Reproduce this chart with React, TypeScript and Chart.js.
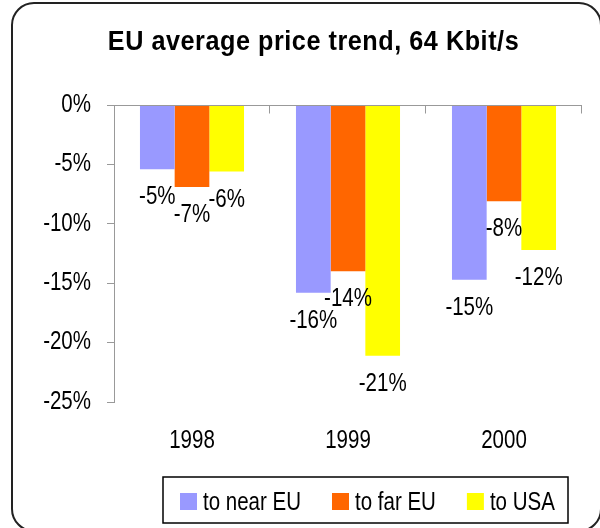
import { useEffect, useRef } from "react";
import { Chart, registerables } from "chart.js";

Chart.register(...registerables);

const categories = ["1998", "1999", "2000"];
const seriesNames = ["to near EU", "to far EU", "to USA"];
const nearEU = [-5.4, -15.8, -14.7];
const farEU = [-6.9, -14.0, -8.1];
const toUSA = [-5.6, -21.1, -12.2];
const seriesColors = ["#9999FF", "#FF6600", "#FFFF00"];
const yTicks = [0, -5, -10, -15, -20, -25];
const titleText = "EU average price trend, 64 Kbit/s";

const FONT = '"Liberation Sans", Arial, sans-serif';
const NARROW = 0.82;
const protoFill = CanvasRenderingContext2D.prototype.fillText;

const framePlugin = {
  id: "frame",
  beforeDraw(chart: any) {
    const ctx = chart.ctx;
    ctx.save();
    ctx.fillStyle = "#fff";
    ctx.fillRect(0, 0, chart.width, chart.height);
    ctx.strokeStyle = "#222";
    ctx.lineWidth = 2;
    ctx.beginPath();
    ctx.roundRect(12, 3, 589, 528, 22);
    ctx.stroke();
    ctx.fillStyle = "#000";
    ctx.font = "bold 28px " + FONT;
    ctx.textAlign = "center";
    ctx.textBaseline = "alphabetic";
    try {
      ctx.letterSpacing = "0.6px";
    } catch (e) {}
    ctx.translate(313.5, 49.5);
    ctx.scale(0.9, 1);
    protoFill.call(ctx, titleText, 0, 0);
    ctx.restore();
  },
};

const axisLinePlugin = {
  id: "zeroLine",
  afterDatasetsDraw(chart: any) {
    const ctx = chart.ctx;
    const area = chart.chartArea;
    const y0 = Math.round(chart.scales.y.getPixelForValue(0)) + 0.5;
    ctx.save();
    ctx.strokeStyle = "#999";
    ctx.lineWidth = 1;
    ctx.beginPath();
    ctx.moveTo(area.left, y0);
    ctx.lineTo(area.right, y0);
    const n = categories.length;
    for (let i = 1; i <= n; i++) {
      const x = Math.round(area.left + (i * (area.right - area.left)) / n) - 0.5;
      ctx.moveTo(x, y0);
      ctx.lineTo(x, y0 + 8);
    }
    ctx.stroke();
    ctx.fillStyle = "#000";
    ctx.font = "25px " + FONT;
    ctx.textAlign = "center";
    ctx.textBaseline = "alphabetic";
    chart.data.datasets.forEach((ds: any, di: number) => {
      const meta = chart.getDatasetMeta(di);
      meta.data.forEach((bar: any, i: number) => {
        const v = ds.data[i];
        ctx.fillText(Math.round(v) + "%", bar.x, bar.y + 35);
      });
    });
    ctx.restore();
  },
};

const legendPlugin = {
  id: "boxLegend",
  afterDraw(chart: any) {
    const ctx = chart.ctx;
    ctx.save();
    ctx.strokeStyle = "#000";
    ctx.lineWidth = 1.5;
    ctx.strokeRect(163, 477, 405, 46);
    ctx.font = "25px " + FONT;
    ctx.textAlign = "left";
    ctx.textBaseline = "alphabetic";
    let x = 180;
    chart.data.datasets.forEach((ds: any) => {
      ctx.fillStyle = ds.backgroundColor;
      ctx.fillRect(x, 493, 17, 17);
      x += 23;
      ctx.fillStyle = "#000";
      ctx.fillText(ds.label, x, 510);
      x += ctx.measureText(ds.label).width * NARROW + 31;
    });
    ctx.restore();
  },
};

export default function App() {
  const ref = useRef<HTMLCanvasElement | null>(null);
  useEffect(() => {
    document.body.style.margin = "0";
    const canvas = ref.current;
    if (!canvas) return;
    const ctx: any = canvas.getContext("2d");
    ctx.fillText = function (text: string, x: number, y: number, mw?: number) {
      this.save();
      this.translate(x, y);
      this.scale(NARROW, 1);
      if (mw === undefined) protoFill.call(this, text, 0, 0);
      else protoFill.call(this, text, 0, 0, mw / NARROW);
      this.restore();
    };
    const chart = new Chart(canvas, {
      type: "bar",
      data: {
        labels: categories,
        datasets: [nearEU, farEU, toUSA].map((d, i) => ({
          label: seriesNames[i],
          data: d,
          backgroundColor: seriesColors[i],
          borderWidth: 0,
          categoryPercentage: 0.667,
          barPercentage: 1,
        })),
      },
      options: {
        responsive: false,
        animation: false,
        devicePixelRatio: 1,
        layout: { padding: { left: 0, top: 105, right: 18, bottom: 0 } },
        plugins: {
          legend: { display: false },
          title: { display: false },
          tooltip: { enabled: false },
        },
        scales: {
          x: {
            grid: { display: false, drawTicks: false },
            border: { display: false },
            ticks: { font: { family: FONT, size: 25 }, color: "#000", padding: 24, maxRotation: 0 },
            afterFit: (s: any) => {
              s.height = 126;
            },
          },
          y: {
            min: -25,
            max: 0,
            afterBuildTicks: (s: any) => {
              s.ticks = yTicks.map((v) => ({ value: v }));
            },
            ticks: {
              font: { family: FONT, size: 25 },
              color: "#000",
              padding: 16,
              callback: (v: any) => v + "%",
            },
            grid: { drawOnChartArea: false, tickLength: 7, color: "#999" },
            border: { color: "#999" },
            afterFit: (s: any) => {
              s.width = 114;
            },
          },
        },
      },
      plugins: [framePlugin, axisLinePlugin, legendPlugin],
    });
    return () => chart.destroy();
  }, []);
  return <canvas ref={ref} width={600} height={528} style={{ display: "block" }} />;
}
